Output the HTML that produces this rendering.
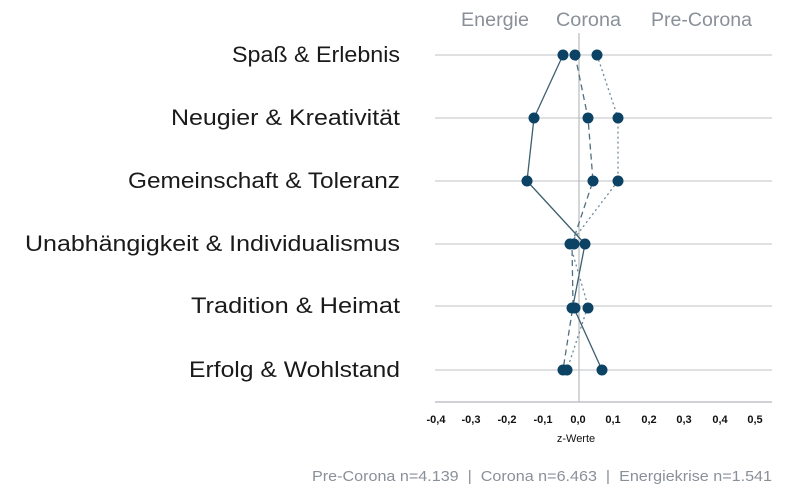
<!DOCTYPE html>
<html><head><meta charset="utf-8"><style>
html,body{margin:0;padding:0;background:#fff;}
svg{display:block;}
</style></head><body>
<svg width="800" height="500" xmlns="http://www.w3.org/2000/svg" font-family="Liberation Sans, sans-serif">
<g fill="#8a9099" font-size="19">
<text x="461" y="26" textLength="68" lengthAdjust="spacingAndGlyphs">Energie</text>
<text x="556" y="26" textLength="65" lengthAdjust="spacingAndGlyphs">Corona</text>
<text x="651" y="26" textLength="101" lengthAdjust="spacingAndGlyphs">Pre-Corona</text>
</g>
<g stroke="#d4d6d9" stroke-width="1.5">
<line x1="435" y1="55" x2="772" y2="55"/>
<line x1="435" y1="118" x2="772" y2="118"/>
<line x1="435" y1="181" x2="772" y2="181"/>
<line x1="435" y1="244" x2="772" y2="244"/>
<line x1="435" y1="306" x2="772" y2="306"/>
<line x1="435" y1="370" x2="772" y2="370"/>
<line x1="435" y1="402" x2="772" y2="402" stroke="#cfd1d4" stroke-width="2"/>
</g>
<line x1="579" y1="33" x2="579" y2="402" stroke="#b8bbbf" stroke-width="1.2"/>
<g fill="#1a1a1a" font-size="22" text-anchor="end">
<text x="400" y="62" textLength="168" lengthAdjust="spacingAndGlyphs">Spaß &amp; Erlebnis</text>
<text x="400" y="125" textLength="229" lengthAdjust="spacingAndGlyphs">Neugier &amp; Kreativität</text>
<text x="400" y="188" textLength="272" lengthAdjust="spacingAndGlyphs">Gemeinschaft &amp; Toleranz</text>
<text x="400" y="251" textLength="375" lengthAdjust="spacingAndGlyphs">Unabhängigkeit &amp; Individualismus</text>
<text x="400" y="313" textLength="209" lengthAdjust="spacingAndGlyphs">Tradition &amp; Heimat</text>
<text x="400" y="377" textLength="211" lengthAdjust="spacingAndGlyphs">Erfolg &amp; Wohlstand</text>
</g>
<g fill="none" stroke-width="1.3">
<polyline stroke="#3d5f6f" points="563,55 534,118 527,181 585,244 573,306 602,370"/>
<polyline stroke="#4f6f80" stroke-dasharray="6,4" points="575,55 588,118 593,181 572,244 573,306 563,370"/>
<polyline stroke="#6f8a98" stroke-dasharray="2,3" points="597,55 618,118 618,181 570,244 588,306 567,370"/>
</g>
<g fill="#0c4365">
<circle cx="563" cy="55" r="5.5"/><circle cx="575" cy="55" r="5.5"/><circle cx="597" cy="55" r="5.5"/>
<circle cx="534" cy="118" r="5.5"/><circle cx="588" cy="118" r="5.5"/><circle cx="618" cy="118" r="5.5"/>
<circle cx="527" cy="181" r="5.5"/><circle cx="593" cy="181" r="5.5"/><circle cx="618" cy="181" r="5.5"/>
<circle cx="570" cy="244" r="5.5"/><circle cx="574" cy="244" r="5.5"/><circle cx="585" cy="244" r="5.5"/>
<circle cx="572" cy="308" r="5.5"/><circle cx="575" cy="308" r="5.5"/><circle cx="588" cy="308" r="5.5"/>
<circle cx="563" cy="370" r="5.5"/><circle cx="567" cy="370" r="5.5"/><circle cx="602" cy="370" r="5.5"/>
</g>
<g fill="#111" font-size="11" font-weight="bold" text-anchor="middle">
<text x="436" y="423">-0,4</text><text x="471" y="423">-0,3</text><text x="507" y="423">-0,2</text>
<text x="543" y="423">-0,1</text><text x="578" y="423">0,0</text><text x="613" y="423">0,1</text>
<text x="649" y="423">0,2</text><text x="684" y="423">0,3</text><text x="720" y="423">0,4</text>
<text x="755" y="423">0,5</text>
</g>
<text x="576" y="442" font-size="11" fill="#111" text-anchor="middle">z-Werte</text>
<text x="772" y="481" font-size="15" fill="#8a9099" text-anchor="end" textLength="460" lengthAdjust="spacingAndGlyphs" style="white-space:pre" xml:space="preserve">Pre-Corona n=4.139  |  Corona n=6.463  |  Energiekrise n=1.541</text>
</svg>
</body></html>
